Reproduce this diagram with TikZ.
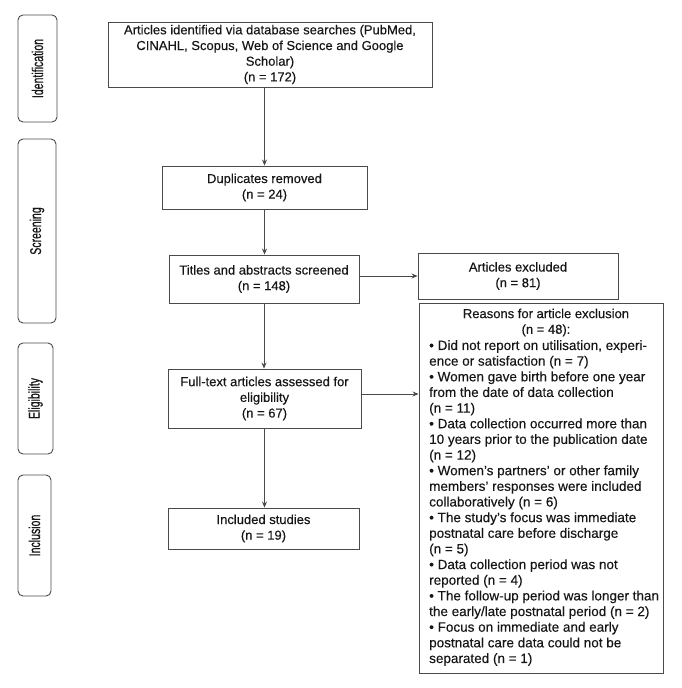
\documentclass[tikz,border=0pt]{standalone}
\usepackage{fontspec}
\usepackage{graphicx}
\setmainfont{Liberation Sans}[FakeBold=0.3]
\newfontfamily\stagefont{Liberation Sans}[FakeBold=0.8]
\usetikzlibrary{arrows.meta}
\definecolor{linec}{HTML}{4A4A4A}
\definecolor{textc}{HTML}{161616}
\tikzset{
  box/.style={draw=linec, line width=0.9pt, align=center, inner sep=2pt,
    font=\fontsize{13}{15.7}\selectfont, text=textc},
  stage/.style={draw=linec, line width=0.9pt, rounded corners=5pt},
  stagetext/.style={rotate=90, font=\stagefont\fontsize{15.5}{17}\selectfont, text=textc},
  flow/.style={draw=linec, line width=0.8pt, -{Stealth[length=6pt,width=5pt]}},
  plain/.style={font=\fontsize{13.5}{15.65}\selectfont, text=textc, inner sep=0pt}
}
\newcommand{\cond}[1]{\scalebox{0.68}[1]{#1}}
\begin{document}
\begin{tikzpicture}[x=1pt,y=-1pt]
\useasboundingbox (0,0) rectangle (682,688);
% stage labels
\node[stage, minimum width=39pt, minimum height=107pt] (sid) at (37.5,68.5) {};
\node[stagetext] (tid) at (sid.center) {\cond{Identification}};
\node[stage, minimum width=38pt, minimum height=184pt] (ssc) at (37,231) {};
\node[stagetext] (tsc) at (ssc.center) {\cond{Screening}};
\node[stage, minimum width=35pt, minimum height=111pt] (sel) at (35.5,398.5) {};
\node[stagetext] (tel) at (sel.center) {\cond{Eligibility}};
\node[stage, minimum width=33pt, minimum height=121pt] (sin) at (34.5,535.5) {};
\node[stagetext] (tin) at (sin.center) {\cond{Inclusion}};
% main boxes
\node[box, minimum width=324pt, minimum height=65pt] (top) at (270,54.5)
  {Articles identified via database searches (PubMed,\\CINAHL, Scopus, Web of Science and Google\\Scholar)\\(n = 172)};
\node[box, minimum width=205pt, minimum height=43pt] (dup) at (264.5,187.5)
  {Duplicates removed\\(n = 24)};
\node[box, minimum width=190pt, minimum height=48pt] (tit) at (264,279)
  {Titles and abstracts screened\\(n = 148)};
\node[box, minimum width=193pt, minimum height=59pt] (ful) at (264.5,398.5)
  {Full-text articles assessed for\\eligibility\\(n = 67)};
\node[box, minimum width=191pt, minimum height=41pt] (inc) at (263.5,528.5)
  {Included studies\\(n = 19)};
\node[box, minimum width=200pt, minimum height=46pt] (exc) at (518,276)
  {Articles excluded\\(n = 81)};
\node[box, minimum width=244pt, minimum height=370pt] (rea) at (541,488) {};
\node[plain, align=center, anchor=north, font=\fontsize{13}{15.65}\selectfont] (reah) at (546,308.5)
  {Reasons for article exclusion\\(n = 48):};
\node[plain, align=left, anchor=north west] (reab) at (429,340)
  {• Did not report on utilisation, experi-\\
ence or satisfaction (n = 7)\\
• Women gave birth before one year\\
from the date of data collection\\
(n = 11)\\
• Data collection occurred more than\\
10 years prior to the publication date\\
(n = 12)\\
• Women’s partners’ or other family\\
members’ responses were included\\
collaboratively (n = 6)\\
• The study’s focus was immediate\\
postnatal care before discharge\\
(n = 5)\\
• Data collection period was not\\
reported (n = 4)\\
• The follow-up period was longer than\\
the early/late postnatal period (n = 2)\\
• Focus on immediate and early\\
postnatal care data could not be\\
separated (n = 1)};
% connectors
\draw[flow] (dup.north |- top.south) -- (dup.north);
\draw[flow] (dup.south) -- (dup.south |- tit.north);
\draw[flow] (tit.south) -- (tit.south |- ful.north);
\draw[flow] (ful.south) -- (ful.south |- inc.north);
\draw[flow] ([yshift=3pt]tit.east) -- ([yshift=3pt]tit.east -| exc.west);
\draw[flow] ([yshift=4.5pt]ful.east) -- ([yshift=4.5pt]ful.east -| rea.west);
\end{tikzpicture}
\end{document}
